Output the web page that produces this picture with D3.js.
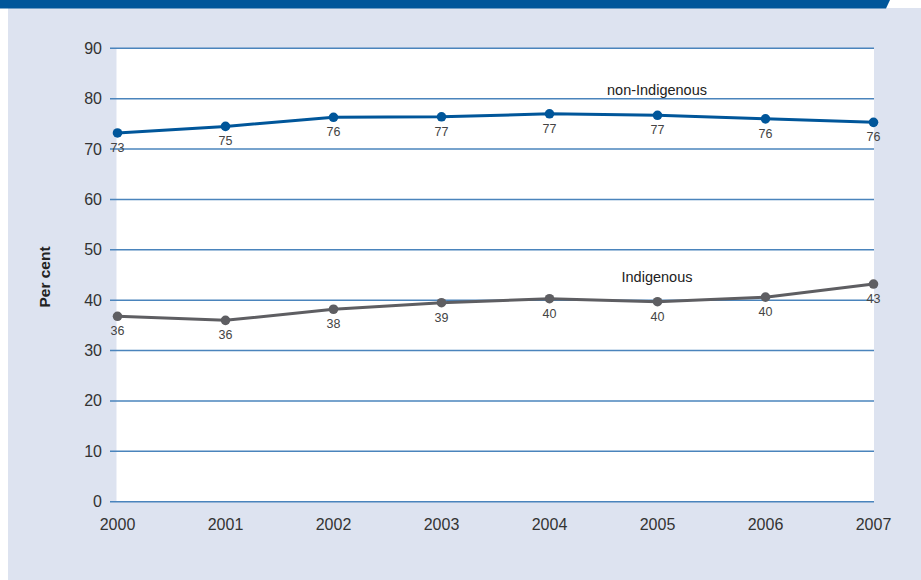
<!DOCTYPE html>
<html><head><meta charset="utf-8">
<script src="https://cdn.jsdelivr.net/npm/d3@7"></script>
<style>html,body{margin:0;padding:0;background:#fff;}svg{display:block;}</style>
</head><body>
<svg id="c" width="921" height="580"></svg>
<script>
const years = [2000, 2001, 2002, 2003, 2004, 2005, 2006, 2007];
const nonIndigenous = [73.2, 74.5, 76.3, 76.4, 77.0, 76.7, 76.0, 75.3];
const nonIndigenousLabels = ["73", "75", "76", "77", "77", "77", "76", "76"];
const indigenous = [36.8, 36.0, 38.2, 39.5, 40.3, 39.7, 40.6, 43.2];
const indigenousLabels = ["36", "36", "38", "39", "40", "40", "40", "43"];
const yTicks = [0, 10, 20, 30, 40, 50, 60, 70, 80, 90];
const seriesNames = ["non-Indigenous", "Indigenous"];
const axisTitle = "Per cent";

const svg = d3.select("#c");
const font = "'Liberation Sans', Arial, sans-serif";

// background panel and header bar
svg.append("rect").attr("x", 8).attr("y", 8).attr("width", 913).attr("height", 572).attr("fill", "#dde3f0");
svg.append("path").attr("d", "M0,0 L890,0 L886,8.5 L0,8.5 Z").attr("fill", "#00569a");

const x = d3.scalePoint().domain(years).range([117.5, 873.5]);
const y = d3.scaleLinear().domain([0, 90]).range([501.7, 48.3]);

// plot area
svg.append("rect").attr("x", 116.5).attr("y", y(90)).attr("width", 874 - 116.5).attr("height", y(0) - y(90)).attr("fill", "#fff");

// gridlines + y labels
const g = svg.append("g");
g.selectAll("line.grid").data(yTicks).join("line")
  .attr("x1", 110).attr("x2", 874)
  .attr("y1", d => y(d)).attr("y2", d => y(d))
  .attr("stroke", "#4a84bc").attr("stroke-width", 1.4);
g.selectAll("text.yl").data(yTicks).join("text")
  .attr("x", 102).attr("y", d => y(d) + 5.5)
  .attr("text-anchor", "end").attr("font-family", font).attr("font-size", 16).attr("fill", "#333")
  .text(d => d);

// x labels
g.selectAll("text.xl").data(years).join("text")
  .attr("x", d => x(d)).attr("y", 530)
  .attr("text-anchor", "middle").attr("font-family", font).attr("font-size", 16).attr("fill", "#333")
  .text(d => d);

// axis title
svg.append("text").attr("transform", "translate(49.5,277) rotate(-90)")
  .attr("text-anchor", "middle").attr("font-family", font).attr("font-size", 15.5).attr("font-weight", "bold").attr("fill", "#222")
  .text(axisTitle);

function drawSeries(vals, labels, color) {
  const data = years.map((yr, i) => ({yr, v: vals[i], l: labels[i]}));
  const line = d3.line().x(d => x(d.yr)).y(d => y(d.v));
  svg.append("path").datum(data).attr("d", line).attr("fill", "none").attr("stroke", color).attr("stroke-width", 3);
  svg.append("g").selectAll("circle").data(data).join("circle")
    .attr("cx", d => x(d.yr)).attr("cy", d => y(d.v)).attr("r", 4.8).attr("fill", color);
  svg.append("g").selectAll("text").data(data).join("text")
    .attr("x", d => x(d.yr)).attr("y", d => y(d.v) + 19)
    .attr("text-anchor", "middle").attr("font-family", font).attr("font-size", 12.5).attr("fill", "#444")
    .text(d => d.l);
}
drawSeries(nonIndigenous, nonIndigenousLabels, "#00569a");
drawSeries(indigenous, indigenousLabels, "#5e5e62");

svg.append("text").attr("x", 657).attr("y", 95).attr("text-anchor", "middle")
  .attr("font-family", font).attr("font-size", 14.5).attr("fill", "#222").text(seriesNames[0]);
svg.append("text").attr("x", 657).attr("y", 282).attr("text-anchor", "middle")
  .attr("font-family", font).attr("font-size", 14.5).attr("fill", "#222").text(seriesNames[1]);
</script>
</body></html>
